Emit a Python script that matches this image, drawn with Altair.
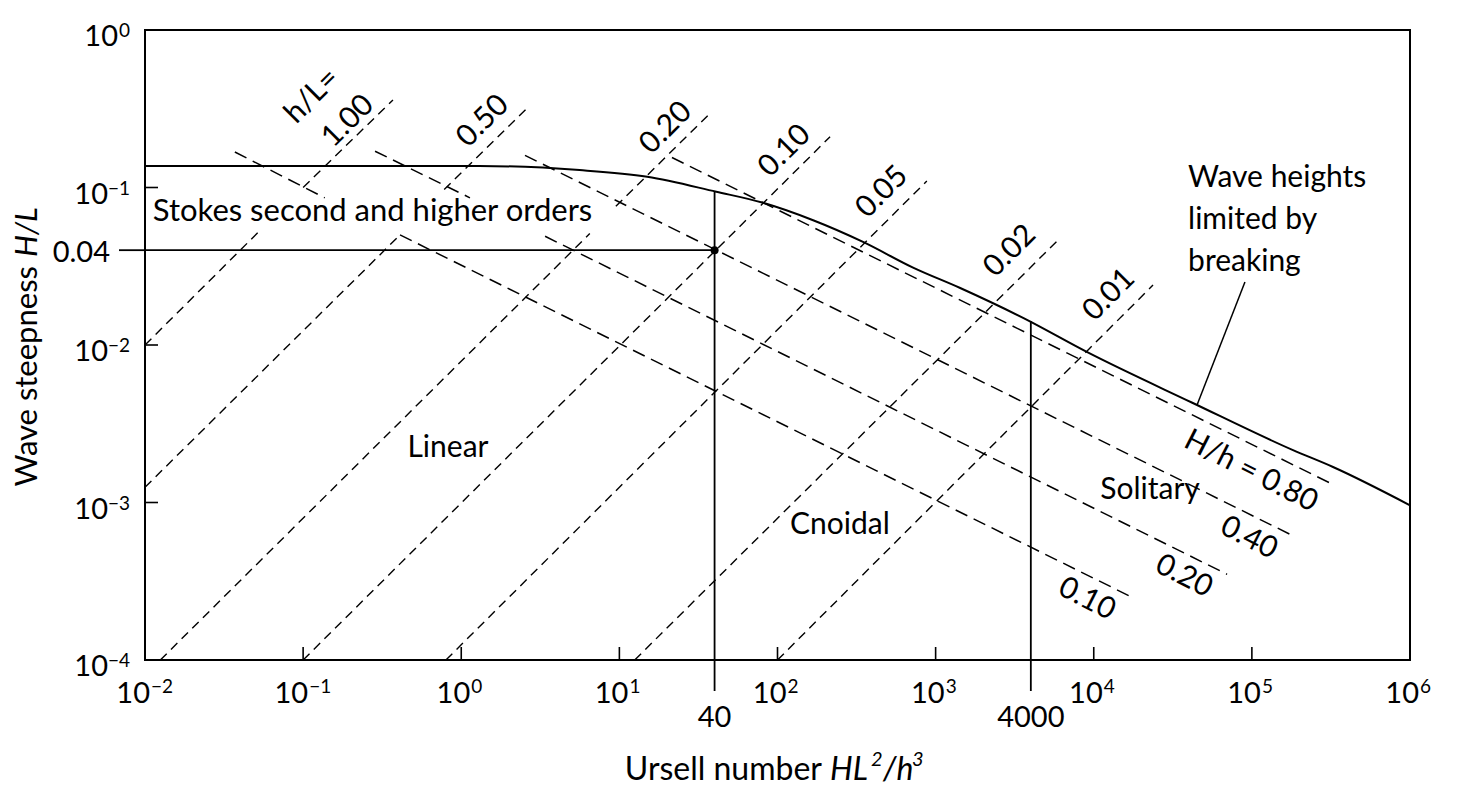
import altair as alt
import pandas as pd

FONT = "Lato"

# ---------------- data ----------------
# breaking-limit curve (solid)
break_U = [0.01, 1.3, 5.6, 15, 41, 81, 168, 350, 720, 1430, 3600, 9100, 42000, 182000, 326000, 1e6]
break_HL = [0.137, 0.137, 0.129, 0.117, 0.094, 0.080, 0.062, 0.045, 0.031, 0.023, 0.0148, 0.0090,
            0.0043, 0.00215, 0.00168, 0.00096]

# constant h/L lines (dashed, rising) - segments broken around the Stokes label
hL_seg = ["1.00a", "1.00a", "1.00b", "1.00b", "0.50a", "0.50a", "0.50b", "0.50b",
          "0.20a", "0.20a", "0.20b", "0.20b", "0.10", "0.10", "0.05", "0.05",
          "0.02", "0.02", "0.01", "0.01"]
hL_U = [0.01, 0.052, 0.10, 0.37, 0.01, 0.41, 0.78, 2.7, 0.0125, 6.5, 9.5, 38,
        0.1, 215, 0.8, 880, 12.5, 5900, 100, 23700]
hL_HL = [0.01, 0.052, 0.10, 0.36, 0.00125, 0.050, 0.097, 0.33, 1e-4, 0.051, 0.076, 0.30,
         1e-4, 0.21, 1e-4, 0.11, 1e-4, 0.046, 1e-4, 0.024]

# constant H/h lines (dashed, falling)
Hh_seg = ["0.10a", "0.10a", "0.10b", "0.10b", "0.20a", "0.20a", "0.20b", "0.20b",
          "0.40", "0.40", "0.80", "0.80"]
Hh_U = [0.037, 0.137, 0.41, 17500, 0.285, 1.135, 3.39, 69700, 2.53, 179000, 21.5, 326000]
Hh_HL = [0.168, 0.086, 0.050, 2.5e-4, 0.170, 0.086, 0.049, 3.5e-4, 0.160, 6.2e-4, 0.155, 1.3e-3]

# solid guide lines (U=40, U=4000, H/L=0.04)
ref_U1 = [0.01, 40, 4000]
ref_U2 = [40, 40, 4000]
ref_HL1 = [0.04, 0.094, 0.0142]
ref_HL2 = [0.04, 1e-4, 1e-4]

point_U = [40]
point_HL = [0.04]

leader_U = [90400, 45000]
leader_HL = [0.0251, 0.00416]

# labels
hL_lab = ["h/L=", "1.00", "0.50", "0.20", "0.10", "0.05", "0.02", "0.01"]
hL_lab_U = [0.114, 0.192, 1.37, 19.7, 111, 458, 2950, 12500]
hL_lab_HL = [0.381, 0.264, 0.264, 0.239, 0.171, 0.0936, 0.0395, 0.0208]

Hh_lab = ["H/h = 0.80", "0.40", "0.20", "0.10"]
Hh_lab_U = [98700, 95900, 37200, 9060]
Hh_lab_HL = [0.00158, 5.95e-4, 3.41e-4, 2.44e-4]

region_lab = ["Linear", "Cnoidal", "Solitary"]
region_U = [0.824, 248, 22700]
region_HL = [0.00222, 7.2e-4, 0.0012]

stokes_lab = ["Stokes second and higher orders"]
stokes_U = [0.0112]
stokes_HL = [0.0699]

break_lab = ["Wave heights", "limited by", "breaking"]
break_lab_U = [39500, 39500, 39500]
break_lab_HL = [0.115, 0.0622, 0.0337]

x_ticks = [1e-2, 1e-1, 1, 10, 100, 1e3, 1e4, 1e5, 1e6]
x_exps = ["\u22122", "\u22121", "0", "1", "2", "3", "4", "5", "6"]
y_ticks = [1e-4, 1e-3, 1e-2, 1e-1, 1]
y_exps = ["\u22124", "\u22123", "\u22122", "\u22121", "0"]
x_special = [40, 4000]
x_special_lab = ["40", "4000"]
y_special = [0.04]
y_special_lab = ["0.04"]

# ---------------- chart ----------------
W, H = 1265, 630
xs = alt.Scale(type="log", domain=[0.01, 1e6], nice=False)
ys = alt.Scale(type="log", domain=[1e-4, 1], nice=False)


def X(f):
    return alt.X(f"{f}:Q", scale=xs, axis=None)


def Y(f):
    return alt.Y(f"{f}:Q", scale=ys, axis=None)


def txt(df, **kw):
    base = dict(font=FONT, color="black")
    base.update(kw)
    return alt.Chart(df).mark_text(**base)


layers = []

df_break = pd.DataFrame({"U": break_U, "HL": break_HL})
layers.append(alt.Chart(df_break).mark_line(color="black", strokeWidth=2, interpolate="monotone")
              .encode(x=X("U"), y=Y("HL")))

df_hL = pd.DataFrame({"seg": hL_seg, "U": hL_U, "HL": hL_HL})
layers.append(alt.Chart(df_hL).mark_line(color="black", strokeWidth=1.4, strokeDash=[9, 6])
              .encode(x=X("U"), y=Y("HL"), detail="seg:N"))

df_Hh = pd.DataFrame({"seg": Hh_seg, "U": Hh_U, "HL": Hh_HL})
layers.append(alt.Chart(df_Hh).mark_line(color="black", strokeWidth=1.5, strokeDash=[13, 7])
              .encode(x=X("U"), y=Y("HL"), detail="seg:N"))

df_ref = pd.DataFrame({"U1": ref_U1, "U2": ref_U2, "HL1": ref_HL1, "HL2": ref_HL2})
layers.append(alt.Chart(df_ref).mark_rule(color="black", strokeWidth=1.8)
              .encode(x=X("U1"), x2="U2:Q", y=Y("HL1"), y2="HL2:Q"))

df_pt = pd.DataFrame({"U": point_U, "HL": point_HL})
layers.append(alt.Chart(df_pt).mark_circle(color="black", size=65, opacity=1)
              .encode(x=X("U"), y=Y("HL")))

df_lead = pd.DataFrame({"U": leader_U, "HL": leader_HL})
layers.append(alt.Chart(df_lead).mark_line(color="black", strokeWidth=1.5)
              .encode(x=X("U"), y=Y("HL")))

# text annotations
df_hLlab = pd.DataFrame({"t": hL_lab, "U": hL_lab_U, "HL": hL_lab_HL})
layers.append(txt(df_hLlab, fontSize=30, angle=315, align="center", baseline="middle")
              .encode(x=X("U"), y=Y("HL"), text="t:N"))

df_Hhlab = pd.DataFrame({"t": Hh_lab, "U": Hh_lab_U, "HL": Hh_lab_HL})
layers.append(txt(df_Hhlab, fontSize=30, angle=27, align="center", baseline="middle")
              .encode(x=X("U"), y=Y("HL"), text="t:N"))

df_reg = pd.DataFrame({"t": region_lab, "U": region_U, "HL": region_HL})
layers.append(txt(df_reg, fontSize=30, align="center", baseline="middle")
              .encode(x=X("U"), y=Y("HL"), text="t:N"))

df_stokes = pd.DataFrame({"t": stokes_lab, "U": stokes_U, "HL": stokes_HL})
layers.append(txt(df_stokes, fontSize=31, align="left", baseline="middle")
              .encode(x=X("U"), y=Y("HL"), text="t:N"))

df_blab = pd.DataFrame({"t": break_lab, "U": break_lab_U, "HL": break_lab_HL})
layers.append(txt(df_blab, fontSize=30, align="left", baseline="middle")
              .encode(x=X("U"), y=Y("HL"), text="t:N"))

# ---- axes drawn by hand (inward ticks, 10^n labels) ----
df_xt = pd.DataFrame({"v": x_ticks, "e": x_exps, "b": ["10"] * len(x_ticks)})
layers.append(alt.Chart(df_xt).mark_rule(color="black", strokeWidth=1.6)
              .encode(x=X("v"), y=alt.value(H), y2=alt.value(H - 13)))
for n, dx in [(2, 5), (1, 9)]:
    sub = df_xt[df_xt["e"].str.len() == n]
    layers.append(txt(sub, fontSize=29, align="right", baseline="alphabetic", dx=dx)
                  .encode(x=X("v"), y=alt.value(673), text="b:N"))
    layers.append(txt(sub, fontSize=19, align="left", baseline="alphabetic", dx=dx + 1)
                  .encode(x=X("v"), y=alt.value(663), text="e:N"))

df_yt = pd.DataFrame({"v": y_ticks, "e": y_exps, "b": ["10"] * len(y_ticks)})
layers.append(alt.Chart(df_yt).mark_rule(color="black", strokeWidth=1.6)
              .encode(y=Y("v"), x=alt.value(0), x2=alt.value(13)))
for n, xb in [(2, -37), (1, -27)]:
    sub = df_yt[df_yt["e"].str.len() == n]
    layers.append(txt(sub, fontSize=29, align="right", baseline="alphabetic", dy=16)
                  .encode(y=Y("v"), x=alt.value(xb), text="b:N"))
layers.append(txt(df_yt, fontSize=19, align="right", baseline="alphabetic", dy=7)
              .encode(y=Y("v"), x=alt.value(-15), text="e:N"))

df_xs = pd.DataFrame({"v": x_special, "t": x_special_lab})
layers.append(alt.Chart(df_xs).mark_rule(color="black", strokeWidth=1.8)
              .encode(x=X("v"), y=alt.value(H), y2=alt.value(H + 31)))
layers.append(txt(df_xs, fontSize=29, align="center", baseline="alphabetic")
              .encode(x=X("v"), y=alt.value(697), text="t:N"))

df_ys = pd.DataFrame({"v": y_special, "t": y_special_lab})
layers.append(alt.Chart(df_ys).mark_rule(color="black", strokeWidth=1.8)
              .encode(y=Y("v"), x=alt.value(-26), x2=alt.value(0)))
layers.append(txt(df_ys, fontSize=29, align="right", baseline="middle", dx=-35, dy=3)
              .encode(y=Y("v"), x=alt.value(0), text="t:N"))

# axis titles (normal + italic parts, superscripts as raised smaller text)
ytitle_a = pd.DataFrame({"t": ["Wave steepness"]})
ytitle_b = pd.DataFrame({"t": ["H/L"]})
layers.append(txt(ytitle_a, fontSize=31, angle=270, align="right", baseline="middle")
              .encode(x=alt.value(-117), y=alt.value(236), text="t:N"))
layers.append(txt(ytitle_b, fontSize=31, angle=270, align="left", baseline="middle", fontStyle="italic")
              .encode(x=alt.value(-117), y=alt.value(227), text="t:N"))

xtitle_a = pd.DataFrame({"t": ["Ursell number"]})
layers.append(txt(xtitle_a, fontSize=32, align="right", baseline="alphabetic")
              .encode(x=alt.value(677), y=alt.value(750), text="t:N"))
xt_parts = [("HL", 685, 750, 32), ("2", 726, 736, 20), ("/h", 738, 750, 32), ("3", 767, 736, 20)]
for s, px, py, fs in xt_parts:
    layers.append(txt(pd.DataFrame({"t": [s]}), fontSize=fs, align="left", baseline="alphabetic",
                      fontStyle="italic")
                  .encode(x=alt.value(px), y=alt.value(py), text="t:N"))

chart = (
    alt.layer(*layers)
    .properties(width=W, height=H,
                padding={"left": 137, "top": 22, "right": 60, "bottom": 130},
                autosize=alt.AutoSizeParams(type="none"),
                background="white")
    .configure_view(stroke="black", strokeWidth=2)
)

chart.save("out.html", embed_options={"renderer": "svg", "actions": False})
